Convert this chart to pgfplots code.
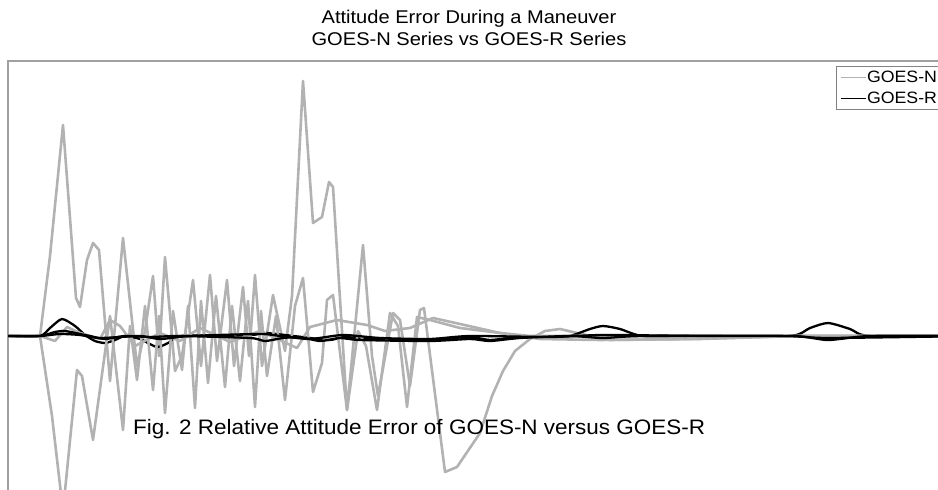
\documentclass[border=0pt]{standalone}
\usepackage{pgfplots}
\pgfplotsset{compat=1.18}
\usepackage{fontspec}
\setmainfont{Liberation Sans}
\definecolor{ngray}{RGB}{178,178,178}
\definecolor{framegray}{RGB}{160,160,160}
\definecolor{leggray}{RGB}{130,130,130}

% GOES-N (three axes), x and y in picture pixels, y measured from the zero line
\pgfplotstableread{
x y
8 0
40 0
50 80
63 211
76 38
80 29
87 76
93 93
99 86
110 -45
123 98
137 -30
145 5
153 60
159 -20
165 79
175 -35
182 -20
193 56
201 -30
210 61
217 -25
227 56
234 -30
243 49
249 -20
255 61
262 -30
273 41
285 -15
292 40
303 255
313 113
322 119
329 154
333 149
342 5
347 -74
363 91
372 -20
378 -60
393 23
400 16
410 -50
420 26
424 28
445 -136
457 -131
480 -97
492 -60
503 -35
515 -15
530 -3
545 5
560 7
577 3
610 -4
690 -3
760 -1
800 0
970 0
}\gnA
\pgfplotstableread{
x y
8 0
40 0
52 -80
63 -175
77 -34
82 -40
93 -104
110 20
123 -94
130 10
137 -44
145 30
153 -54
159 20
165 -77
173 25
182 -34
188 30
195 -72
201 35
208 -47
216 40
225 -51
232 30
240 -45
248 35
255 -71
261 25
267 -40
276 20
285 -64
295 30
303 58
313 -56
322 -27
327 36
333 41
347 -74
358 5
366 -10
377 -74
390 23
398 10
407 -71
417 19
430 16
460 8
500 3
530 0
970 0
}\gnB
\pgfplotstableread{
x y
8 0
40 0
55 -5
67 9
80 3
100 -3
110 16
120 10
135 -10
160 3
180 -5
200 8
230 -6
260 5
297 -12
310 9
337 16
367 11
385 5
410 8
433 18
460 12
500 3
540 -3
600 -4
700 -3
800 0
970 0
}\gnC
% GOES-R (three axes)
\pgfplotstableread{
x y
8 0
40 0
50 8
62 17
75 10
85 1
95 -5
105 -7
115 -4
125 0
140 -3
157 -11
170 -6
180 0
250 1
265 3
285 1
310 -2
330 -4
345 -1
365 -3
400 -4
440 -3
470 -1
490 -4
510 -2
550 -1
570 0
590 7
603 10
620 7
643 0
700 0
790 0
810 8
828 13
850 7
870 0
970 0
}\grA
\pgfplotstableread{
x y
8 0
40 0
55 4
65 5
80 2
90 0
105 -3
125 0
150 -1
180 0
250 -2
265 -5
283 -2
300 -1
320 -5
340 -2
360 -4
430 -5
470 -3
490 -5
520 -2
570 0
603 -2
643 0
790 0
828 -4
870 0
970 0
}\grB
\pgfplotstableread{
x y
8 0
40 0
60 2
80 1
100 -2
140 0
160 -3
190 0
260 2
280 0
310 -3
343 1
380 -2
430 -3
470 0
550 -1
603 1
700 0
790 0
828 -2
970 0
}\grC

\begin{document}
\begin{tikzpicture}
\useasboundingbox (0,0) rectangle (938bp,490bp);
\clip (0,0) rectangle (938bp,490bp);
\begin{axis}[
    scale only axis,
    width=952bp, height=459bp,
    at={(8bp,-30bp)}, anchor=south west,
    xmin=8, xmax=960, ymin=-184, ymax=275,
    xtick=\empty, ytick=\empty,
    axis line style={framegray, line width=1.5bp},
    legend cell align=left,
    legend style={at={(axis cs:836,270)}, anchor=north west,
        draw=leggray, line width=0.8bp, font=\fontsize{16.5}{20}\selectfont,
        inner xsep=4bp, inner ysep=3.5bp, row sep=6bp,
        nodes={inner xsep=0bp, inner ysep=1bp}},
    legend image code/.code={\draw[#1, line width=1.6bp] (0bp,0bp) -- (25bp,0bp);},
    every axis plot/.append style={line join=round},
  ]
  \addplot[ngray, line width=2.6bp] table {\gnA};
  \addlegendentry{\scalebox{1.08}[1]{GOES-N}}
  \addplot[black, line width=2.3bp, smooth, tension=0.4] table {\grA};
  \addlegendentry{\scalebox{1.08}[1]{GOES-R}}
  \addplot[ngray, line width=2.6bp, forget plot] table {\gnB};
  \addplot[ngray, line width=2.6bp, forget plot] table {\gnC};
  \addplot[black, line width=2.3bp, smooth, tension=0.4, forget plot] table {\grB};
  \addplot[black, line width=2.3bp, smooth, tension=0.4, forget plot] table {\grC};
\end{axis}
\node[anchor=base, font=\fontsize{18.5}{22}\selectfont, inner sep=0pt] at (469bp,466bp) {\scalebox{1.09}[1]{Attitude Error During a Maneuver}};
\node[anchor=base, font=\fontsize{18.5}{22}\selectfont, inner sep=0pt] at (469bp,444bp) {\scalebox{1.09}[1]{GOES-N Series vs GOES-R Series}};
\node[anchor=base west, font=\fontsize{21}{25}\selectfont, inner sep=0pt] at (133bp,55bp) {\resizebox{572bp}{\height}{Fig. 2 Relative Attitude Error of GOES-N versus GOES-R}};
\end{tikzpicture}
\end{document}
